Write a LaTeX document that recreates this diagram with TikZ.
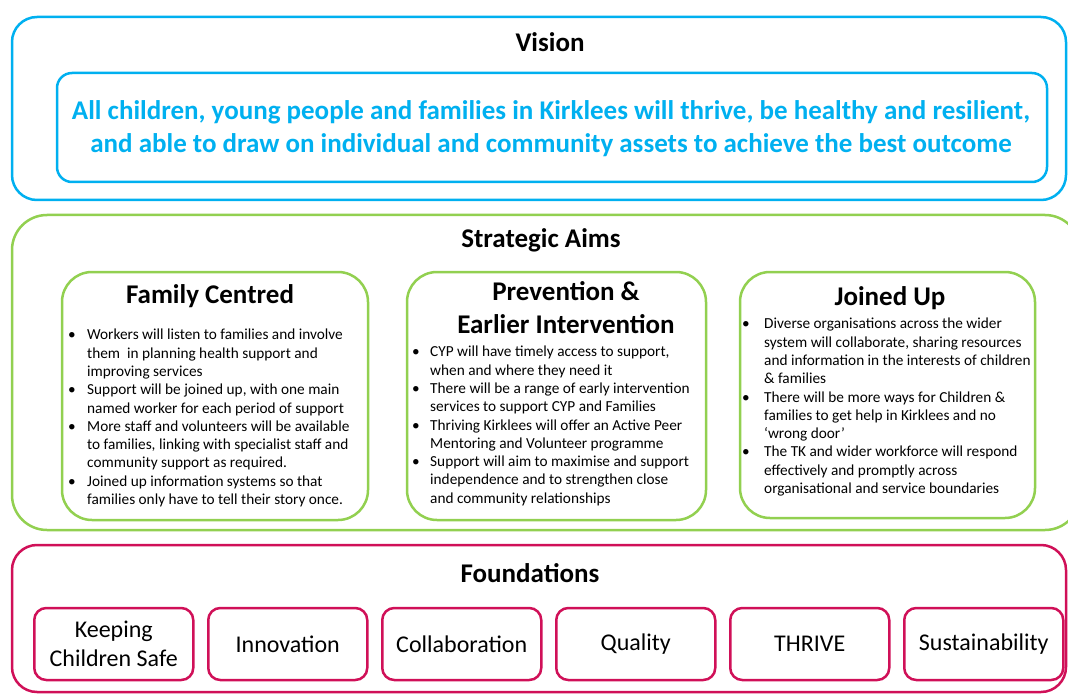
\documentclass[tikz,border=0pt]{standalone}
\usepackage{fontspec}
\setmainfont{Carlito}
\usetikzlibrary{positioning}
\definecolor{visionblue}{RGB}{0,176,240}
\definecolor{aimgreen}{RGB}{146,208,80}
\definecolor{foundred}{RGB}{208,16,88}
\newcommand{\bul}[1][19pt]{\makebox[#1][l]{\textbullet}}

\tikzset{
	heading/.style={font=\bfseries\fontsize{27}{30}\selectfont},
	aimtitle/.style={font=\bfseries\fontsize{27}{33}\selectfont, align=center},
	bullets/.style={font=\fontsize{15.3}{18.3}\selectfont, align=left, anchor=north west, inner sep=0pt},
	pillar/.style={draw=foundred, line width=2.5pt, rounded corners=12pt,
		minimum width=159pt, minimum height=72pt, inner sep=2pt,
		font=\fontsize{24}{29}\selectfont, align=center}
}

\begin{document}
\begin{tikzpicture}[x=1pt, y=-1pt]
				\useasboundingbox (0,0) rectangle (1068,695);
				\fill[white] (0,0) rectangle (1068,695);
				\clip (0,0) rectangle (1068,695);

				% vision
				\draw[visionblue, line width=2.5pt, rounded corners=25pt] (12,17) rectangle (1066,200);
				\draw[visionblue, line width=2.5pt, rounded corners=15pt] (57,73) rectangle (1047,182);
				\node[heading] (vision) at (550,42) {Vision};
				\node[font=\bfseries\fontsize{27}{33}\selectfont, text=visionblue, align=center]
					(visiontext) at (551,129)
					{All children, young people and families in Kirklees will thrive, be healthy and resilient,\\
					and able to draw on individual and community assets to achieve the best outcome};

				% strategic aims
				\draw[aimgreen, line width=2.5pt, rounded corners=35pt] (12,215) rectangle (1080,530);
				\node[heading] (aims) at (541,240) {Strategic Aims};

				\draw[aimgreen, line width=2.5pt, rounded corners=30pt] (62,272) rectangle (368,520);
				\node[aimtitle] (family) at (210,296) {Family Centred};
				\node[bullets] (familytext) at (68,329)
					{\bul Workers will listen to families and involve\\
					\hspace*{19pt}them\ \ in planning health support and\\
					\hspace*{19pt}improving services\\
					\bul Support will be joined up,\ with one main\\
					\hspace*{19pt}named\ worker for each period of support\\
					\bul More staff and volunteers will be available\\
					\hspace*{19pt}to families, linking with specialist staff and\\
					\hspace*{19pt}community support as required.\\
					\bul Joined up\ information systems so that\\
					\hspace*{19pt}families only have to tell their story once.};

				\draw[aimgreen, line width=2.5pt, rounded corners=30pt] (407,272) rectangle (706,520);
				\node[aimtitle] (prevention) at (566,308) {Prevention \&\\Earlier Intervention};
				\node[bullets] (preventiontext) at (412,346)
					{\bul[18pt]CYP will have timely access to support,\\
					\hspace*{18pt}when and where\ they need it\\
					\bul[18pt]There will be a range of early intervention\\
					\hspace*{18pt}services\ to support CYP and Families\\
					\bul[18pt]Thriving Kirklees will offer an Active Peer\\
					\hspace*{18pt}Mentoring and Volunteer\ programme\\
					\bul[18pt]Support will aim to maximise and support\\
					\hspace*{18pt}independence\ and to strengthen\ close\\
					\hspace*{18pt}and community\ relationships};

				\draw[aimgreen, line width=2.5pt, rounded corners=30pt] (740,272) rectangle (1035,518);
				\node[aimtitle] (joined) at (890,298) {Joined Up};
				\node[bullets] (joinedtext) at (742,318)
					{\bul[22pt]Diverse organisations across the wider\\
					\hspace*{22pt}system will collaborate, sharing resources\\
					\hspace*{22pt}and information in the\ interests of children\\
					\hspace*{22pt}\& families\\
					\bul[22pt]There\ will be more ways for Children \&\\
					\hspace*{22pt}families to get\ help in Kirklees and no\\
					\hspace*{22pt}‘wrong door’\\
					\bul[22pt]The TK\ and wider workforce will respond\\
					\hspace*{22pt}effectively and promptly across\\
					\hspace*{22pt}organisational and service boundaries};

				% foundations
				\draw[foundred, line width=2.5pt, rounded corners=25pt] (12,545) rectangle (1066,692);
				\node[heading] (foundations) at (530,573) {Foundations};

				\node[pillar, anchor=west] (safe) at (33,644) {Keeping\\Children Safe};
				\node[pillar, right=12.5pt of safe] (innovation) {Innovation};
				\node[pillar, right=12.5pt of innovation] (collaboration) {Collaboration};
				\node[pillar, right=12.5pt of collaboration] (quality) {Quality};
				\node[pillar, right=12.5pt of quality] (thrive) {THRIVE};
				\node[pillar, right=12.5pt of thrive] (sustainability) {Sustainability};
			\end{tikzpicture}
\end{document}
